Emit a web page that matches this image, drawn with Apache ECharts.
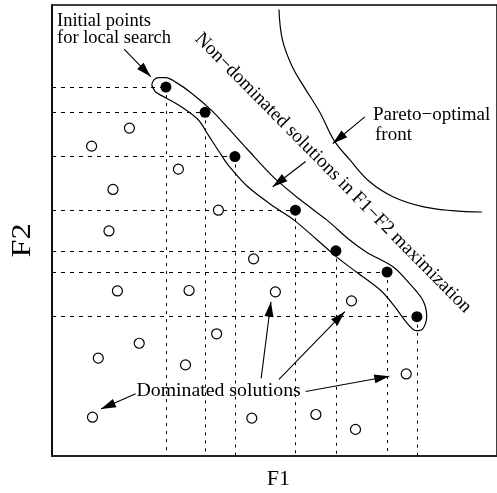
<!DOCTYPE html>
<html>
<head>
<meta charset="utf-8">
<script src="https://cdn.jsdelivr.net/npm/echarts@6/dist/echarts.min.js"></script>
<style>
  html, body { margin: 0; padding: 0; background: #fff; }
  #chart { width: 497px; height: 493px; }
</style>
</head>
<body>
<div id="chart"></div>
<script>
// Non-dominated solutions (filled dots) in the F1-F2 objective space
const nonDomF1 = [25.6, 34.4, 41.1, 54.7, 63.8, 75.3, 82.0];
const nonDomF2 = [81.8, 76.2, 66.4, 54.5, 45.5, 40.8, 30.9];

// Dominated solutions (open circles)
const domF1 = [8.9, 17.4, 13.7, 28.4, 12.8, 37.4, 45.3, 14.7, 30.8, 50.2, 67.3, 37.0, 19.6, 10.4, 30.0, 79.6, 9.1, 44.9, 59.3, 68.2];
const domF2 = [68.7, 72.7, 59.1, 63.6, 49.9, 54.5, 43.7, 36.6, 36.7, 36.4, 34.4, 27.1, 25.0, 21.7, 20.2, 18.2, 8.6, 8.4, 9.2, 5.9];

// Closed outline enclosing the non-dominated set
const bandF1 = [22.4, 22.9, 24.0, 25.6, 27.8, 31.3, 35.8, 39.6, 44.0, 50.0, 55.8, 61.8, 66.9, 70.7, 76.7, 80.2, 83.3, 84.2, 83.3, 81.8, 79.6, 76.9, 74.0, 68.4, 64.0, 59.6, 54.4, 50.0, 44.0, 39.6, 37.6, 35.1, 32.9, 29.1, 25.6, 23.3, 22.4];
const bandF2 = [82.3, 83.4, 83.9, 83.9, 82.9, 80.5, 76.7, 72.7, 67.9, 61.6, 56.8, 52.3, 47.9, 45.2, 41.9, 38.4, 34.6, 31.0, 28.2, 27.8, 29.7, 33.3, 36.6, 40.8, 44.1, 47.9, 52.3, 55.2, 59.7, 64.5, 67.4, 71.2, 74.5, 77.4, 79.4, 80.7, 82.3];

// Pareto-optimal front
const paretoF1 = [51.0, 51.8, 54.0, 56.6, 60.3, 63.3, 67.0, 71.4, 76.6, 83.3, 89.9, 96.6];
const paretoF2 = [99.0, 92.2, 86.3, 81.9, 76.0, 70.1, 65.6, 60.8, 57.5, 55.3, 54.4, 54.1];

// Annotation arrows: [fromF1, fromF2, toF1, toF2]
const arrows = [
  [16.2, 90.2, 22.2, 84.1],   // initial points
  [70.3, 75.2, 63.1, 69.3],   // Pareto-optimal front
  [57.0, 65.3, 49.6, 59.7],   // non-dominated band
  [18.8, 13.8, 11.0, 10.4],   // dominated solutions
  [47.0, 17.2, 49.2, 34.2],
  [51.0, 17.0, 65.8, 32.0],
  [57.0, 14.3, 75.8, 17.7]
];

const pairs = (a, b) => a.map((v, i) => [v, b[i]]);

const hGuides = nonDomF1.map((x, i) => ({ coords: [[0, nonDomF2[i]], [x, nonDomF2[i]]] }));
const vGuides = nonDomF1.map((x, i) => ({ coords: [[x, nonDomF2[i]], [x, 0]] }));
const arrowLines = arrows.map(a => ({ coords: [[a[0], a[1]], [a[2], a[3]]] }));

// Filled triangular head, tip at the centre of a 32x32 box
const headPath = 'path://M0,0L0,0M32,32L32,32M16,16L20.5,31L11.5,31Z';

const serif = '"Liberation Serif", "Times New Roman", serif';

function txt(text, x, y, size, extra) {
  return Object.assign({
    type: 'text', x: x, y: y, z: 100,
    style: { text: text, font: size + 'px ' + serif, fill: '#000',
             align: 'left', verticalAlign: 'middle' }
  }, extra || {});
}

const chart = echarts.init(document.getElementById('chart'), null, { renderer: 'canvas' });

chart.setOption({
  animation: false,
  backgroundColor: '#fff',
  grid: { left: 52, top: 5, right: -5, bottom: 37, show: true,
          borderColor: '#000', borderWidth: 1.5, backgroundColor: 'transparent' },
  xAxis: { type: 'value', min: 0, max: 100, splitLine: { show: false },
           axisLine: { show: true, lineStyle: { color: '#222', width: 2 } },
           axisTick: { show: false }, axisLabel: { show: false } },
  yAxis: { type: 'value', min: 0, max: 100, splitLine: { show: false },
           axisLine: { show: true, lineStyle: { color: '#000', width: 1.5 } },
           axisTick: { show: false }, axisLabel: { show: false } },
  series: [
    { type: 'lines', coordinateSystem: 'cartesian2d', silent: true, z: 1,
      lineStyle: { color: '#000', width: 1, type: [4, 5], opacity: 1 },
      data: hGuides },
    { type: 'lines', coordinateSystem: 'cartesian2d', silent: true, z: 1,
      lineStyle: { color: '#000', width: 1, type: [3, 5], opacity: 1 },
      data: vGuides },
    { type: 'line', data: pairs(paretoF1, paretoF2), smooth: 0.4, showSymbol: false,
      lineStyle: { color: '#000', width: 1.2 }, z: 2, silent: true },
    { type: 'line', data: pairs(bandF1, bandF2), smooth: 0.3, showSymbol: false,
      lineStyle: { color: '#000', width: 1.2 }, z: 2, silent: true },
    { type: 'lines', coordinateSystem: 'cartesian2d', silent: true, z: 3,
      symbol: ['none', headPath], symbolSize: 32,
      lineStyle: { color: '#000', width: 1.1, opacity: 1 },
      data: arrowLines },
    { type: 'scatter', data: pairs(domF1, domF2), symbol: 'circle', symbolSize: 10,
      itemStyle: { color: '#fff', borderColor: '#000', borderWidth: 1.2, opacity: 1 }, z: 4 },
    { type: 'scatter', data: pairs(nonDomF1, nonDomF2), symbol: 'circle', symbolSize: 11,
      itemStyle: { color: '#000', opacity: 1 }, z: 5 }
  ],
  graphic: [
    txt('Initial points', 57, 21.1, 18.5),
    txt('for local search', 57, 37.9, 18.5),
    txt('Pareto\u2212optimal', 373, 115.3, 19),
    txt('front', 375, 135.3, 19),
    txt('Dominated solutions', 136.5, 391.3, 19.8),
    txt('Non\u2212dominated solutions in F1\u2212F2 maximization', 333, 173, 19.2,
        { rotation: -45.4 * Math.PI / 180,
          style: { text: 'Non\u2212dominated solutions in F1\u2212F2 maximization',
                   font: '19.2px ' + serif, fill: '#000', align: 'center', verticalAlign: 'middle' } }),
    txt('F1', 278.3, 479.2, 22, { style: { text: 'F1', font: '22px ' + serif, fill: '#000',
        align: 'center', verticalAlign: 'middle' } }),
    txt('F2', 22.5, 240.5, 27, { rotation: Math.PI / 2, scaleX: 1.2,
        style: { text: 'F2', font: '27px ' + serif, fill: '#000',
                 align: 'center', verticalAlign: 'middle' } })
  ]
});
</script>
</body>
</html>
